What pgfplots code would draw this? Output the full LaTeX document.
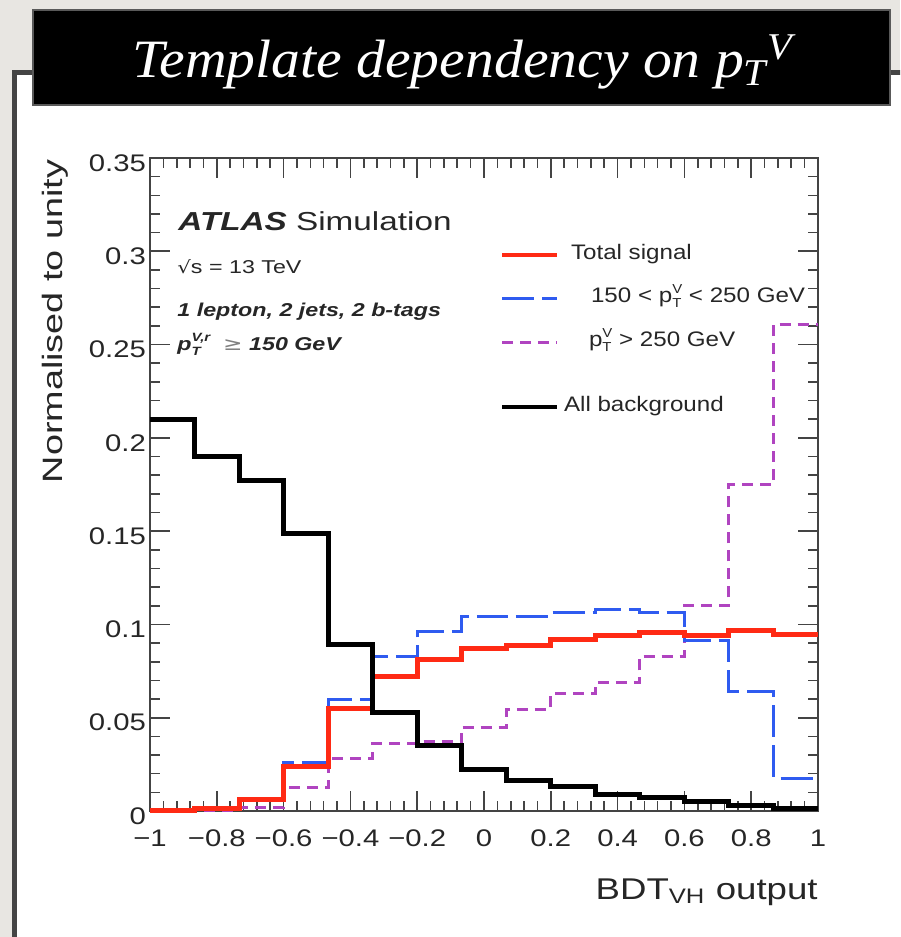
\documentclass[border=0pt]{standalone}
\usepackage{fontspec}
\usepackage{graphicx}
\usepackage{pgfplots}
\usepackage{pgfplotstable}
\pgfplotsset{compat=1.18}
\newfontfamily\arial{Liberation Sans}
\newfontfamily\tfont{Liberation Serif}
\newfontfamily\djv{DejaVu Sans}
\definecolor{bgc}{HTML}{E8E6E2}
\definecolor{sigred}{HTML}{FF2A14}
\definecolor{lblue}{HTML}{2F5BF0}
\definecolor{lmag}{HTML}{B044C0}
\definecolor{framec}{HTML}{444444}
\newcommand{\hs}[2][1.22]{\scalebox{#1}[1]{#2}}
\newcommand{\ptv}{p\rlap{\raisebox{-0.45ex}{\fontsize{6.5}{7}\selectfont T}}\raisebox{0.8ex}{\fontsize{6.5}{7}\selectfont V}}

\pgfplotstableread{
x       black   red     blue    mag
-1      0.210   0.0005  0.0005  0.0003
-0.8667 0.190   0.0012  0.0010  0.0005
-0.7333 0.177   0.0060  0.0060  0.0020
-0.6    0.149   0.0240  0.0260  0.0125
-0.4667 0.089   0.0550  0.0595  0.0280
-0.3333 0.053   0.0720  0.0830  0.0360
-0.2    0.035   0.0810  0.0960  0.0370
-0.0667 0.022   0.0870  0.1040  0.0450
0.0667  0.0165  0.0885  0.1045  0.0545
0.2     0.013   0.0920  0.1063  0.0630
0.3333  0.0087  0.0940  0.1080  0.0690
0.4667  0.0070  0.0955  0.1065  0.0830
0.6     0.0050  0.0940  0.0916  0.1100
0.7333  0.0027  0.0965  0.0640  0.1750
0.8667  0.0012  0.0945  0.0175  0.2610
1       0.0012  0.0945  0.0175  0.2610
}\histdata

\begin{document}
\begin{tikzpicture}
\useasboundingbox (0,0) rectangle (450pt,468.5pt);
\clip (0,0) rectangle (450pt,468.5pt);
\fill[bgc] (0,0) rectangle (450pt,468.5pt);
\fill[white] (7.25pt,-5pt) rectangle (460pt,432.25pt);
\draw[framec, line width=2.5pt] (7.25pt,-5pt) -- (7.25pt,432.25pt) -- (460pt,432.25pt);
\begin{axis}[
  at={(75pt,63pt)}, anchor=south west, scale only axis,
  width=334pt, height=326.5pt,
  xmin=-1, xmax=1, ymin=0, ymax=0.35,
  clip=false,
  xtick={-1,-0.8,-0.6,-0.4,-0.2,0,0.2,0.4,0.6,0.8,1},
  xticklabels={−1,−0.8,−0.6,−0.4,−0.2,0,0.2,0.4,0.6,0.8,1},
  ytick={0,0.05,0.1,0.15,0.2,0.25,0.3,0.35},
  yticklabels={0,0.05,0.1,0.15,0.2,0.25,0.3,0.35},
  minor x tick num=4, minor y tick num=4,
  tick align=inside, major tick length=10pt, minor tick length=5pt,
  axis line style={framec, line width=0.8pt},
  every tick/.style={framec, line width=0.8pt},
  ticklabel style={font=\arial\fontsize{12}{14}\selectfont, xscale=1.22, inner sep=0pt, text=black!85},
  xticklabel style={anchor=base, yshift=-18pt},
  yticklabel style={anchor=east, xshift=-1.5pt, yshift=-2.5pt},
  xlabel={\hs{BDT\textsubscript{VH} output}},
  xlabel style={at={(axis description cs:1,-0.1348)}, anchor=base east, inner sep=0pt, font=\arial\fontsize{15}{17}\selectfont, text=black!85},
  ylabel={\hs[1.35]{Normalised to unity}},
  ylabel style={at={(axis description cs:-0.1317,0.7496)}, anchor=base, inner sep=0pt, font=\arial\fontsize{14}{16}\selectfont, text=black!85},
  legend image code/.code={\draw[#1] (0pt,0pt) -- (27.5pt,0pt);},
  legend cell align=left,
  legend style={at={(axis cs:0.048,0.3044)}, anchor=north west, draw=none, fill=none,
    inner sep=0pt, outer sep=0pt, row sep=9.75pt,
    nodes={inner sep=0pt, text height=8pt, text depth=4pt},
    font=\arial\fontsize{10.5}{12}\selectfont, text=black!85,
    /tikz/every odd column/.append style={column sep=6pt}},
]
\addplot[const plot mark left, lmag, line width=1.5pt, dash pattern=on 5.5pt off 3.5pt, forget plot] table[x=x,y=mag]{\histdata};
\addplot[const plot mark left, lblue, line width=1.5pt, dash pattern=on 16pt off 4pt, forget plot] table[x=x,y=blue]{\histdata};
\addplot[const plot mark left, sigred, line width=2.5pt, forget plot] table[x=x,y=red]{\histdata};
\addplot[const plot mark left, black, line width=2.5pt, forget plot] table[x=x,y=black]{\histdata};

\addlegendimage{sigred, line width=2pt}
\addlegendentry{\hs[1.15]{Total signal}}
\addlegendimage{lblue, line width=1.5pt, dash pattern=on 16pt off 4pt}
\addlegendentry{\hspace{10pt}\hs[1.15]{150 < \ptv{} < 250 GeV}}
\addlegendimage{lmag, line width=1.5pt, dash pattern=on 5.5pt off 3.5pt}
\addlegendentry{\hspace{9pt}\hs[1.15]{\ptv{} > 250 GeV}}
\addlegendimage{empty legend}
\addlegendentry[text height=0pt, text depth=0pt]{}
\addlegendimage{black, line width=2pt}
\addlegendentry{\hspace{-3.5pt}\hs[1.15]{All background}}

\node[anchor=base west, inner sep=0pt, font=\arial\fontsize{13}{15}\selectfont, text=black!85] at (axis cs:-0.916,0.3114) {\hs[1.28]{{\bfseries\itshape ATLAS} Simulation}};
\node[anchor=base west, inner sep=0pt, font=\arial\fontsize{9.3}{11}\selectfont, text=black!85] at (axis cs:-0.919,0.2883) {\hs[1.25]{{\djv\fontsize{8.5}{10}\selectfont √}s = 13 TeV}};
\node[anchor=base west, inner sep=0pt, font=\arial\bfseries\itshape\fontsize{9.3}{11}\selectfont, text=black!85] at (axis cs:-0.919,0.2649) {\hs[1.25]{1 lepton, 2 jets, 2 b-tags}};
\node[anchor=base west, inner sep=0pt, font=\arial\bfseries\itshape\fontsize{9.3}{11}\selectfont, text=black!85] at (axis cs:-0.919,0.247) {\hs[1.25]{p\rlap{\raisebox{-0.5ex}{\fontsize{6}{7}\selectfont T}}\raisebox{0.9ex}{\fontsize{6}{7}\selectfont V,r}\ \ {\mdseries\upshape\color{gray}\djv ≥} 150 GeV}};
\end{axis}
\fill[black] (16.5pt,416pt) rectangle (445pt,463.5pt);
\draw[black!65, line width=1.2pt] (16.5pt,416pt) rectangle (445pt,463.5pt);
\node[anchor=base, white, inner sep=0pt] at (231.5pt,429.5pt) {\resizebox{330pt}{\height}{\tfont\itshape\fontsize{27}{30}\selectfont Template dependency on p\textsubscript{T}\textsuperscript{V}}};
\end{tikzpicture}
\end{document}
